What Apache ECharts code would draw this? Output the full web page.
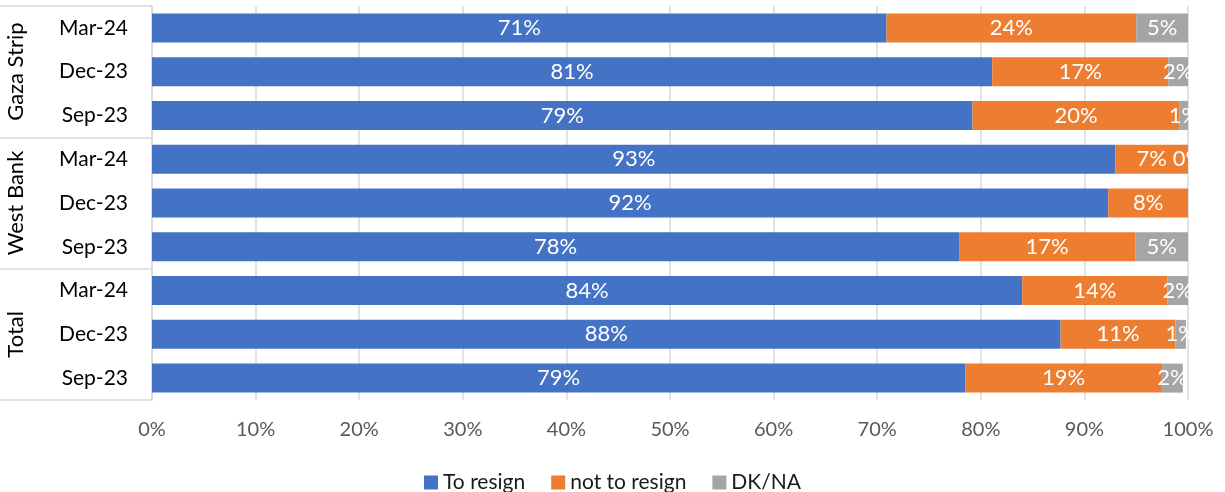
<!DOCTYPE html>
<html>
<head>
<meta charset="utf-8">
<script src="https://cdn.jsdelivr.net/npm/echarts@6/dist/echarts.min.js"></script>
<style>
  html, body { margin: 0; padding: 0; background: #fff; }
  #chart { width: 1225px; height: 492px; }
</style>
</head>
<body>
<div id="chart"></div>
<script>
// rows top to bottom
var categories = ["Mar-24", "Dec-23", "Sep-23", "Mar-24", "Dec-23", "Sep-23", "Mar-24", "Dec-23", "Sep-23"];
var groups = ["Gaza Strip", "West Bank", "Total"];
var toResign = [70.9, 81.1, 79.2, 93.0, 92.3, 77.9, 84.0, 87.7, 78.5];
var notToResign = [24.1, 17.0, 20.0, 7.0, 7.7, 17.0, 14.0, 11.1, 19.0];
var dkNa = [5.0, 1.9, 0.8, 0, null, 5.1, 2.0, 1.0, 2.0];

var font = "Lato";

function barLabel() {
  return {
    show: true,
    position: "inside",
    color: "#fff",
    fontFamily: font,
    fontSize: 22,
    formatter: function (p) {
      return p.value == null ? "" : Math.round(p.value) + "%";
    },
  };
}

var chart = echarts.init(document.getElementById("chart"));
var option = {
  animation: false,
  textStyle: { fontFamily: font },
  grid: { left: 152, right: 37, top: 6, bottom: 92, containLabel: false },
  legend: {
    data: ["To resign", "not to resign", "DK/NA"],
    top: 467,
    left: "center",
    icon: "rect",
    itemWidth: 14,
    itemHeight: 14,
    itemGap: 26,
    textStyle: { color: "#1a1a1a", fontSize: 21, fontFamily: font },
  },
  xAxis: {
    type: "value",
    min: 0,
    max: 100,
    interval: 10,
    axisLine: { show: false },
    axisTick: { show: false },
    axisLabel: { formatter: "{value}%", color: "#595959", fontSize: 20, margin: 20 },
    splitLine: { lineStyle: { color: "#d9d9d9", width: 1.5 } },
  },
  yAxis: [
    {
      type: "category",
      data: categories,
      inverse: true,
      axisLine: { show: true, lineStyle: { color: "#d9d9d9", width: 1.5 } },
      axisTick: { show: false },
      axisLabel: { color: "#000", fontSize: 21, margin: 24 },
    },
    {
      type: "category",
      data: groups,
      inverse: true,
      position: "left",
      axisLine: { show: false },
      axisTick: { show: true, interval: 0, length: 152, lineStyle: { color: "#d9d9d9", width: 1.5 } },
      axisLabel: { rotate: 90, interval: 0, color: "#000", fontSize: 22, margin: 125 },
      splitLine: { show: false },
    },
  ],
  series: [
    {
      name: "To resign",
      type: "bar",
      stack: "all",
      barWidth: 29,
      data: toResign,
      itemStyle: { color: "#4472C4" },
      label: barLabel(),
    },
    {
      name: "not to resign",
      type: "bar",
      stack: "all",
      data: notToResign,
      itemStyle: { color: "#ED7D31" },
      label: barLabel(),
    },
    {
      name: "DK/NA",
      type: "bar",
      stack: "all",
      data: dkNa,
      itemStyle: { color: "#A5A5A5" },
      label: barLabel(),
    },
  ],
};
chart.setOption(option);
</script>
</body>
</html>
